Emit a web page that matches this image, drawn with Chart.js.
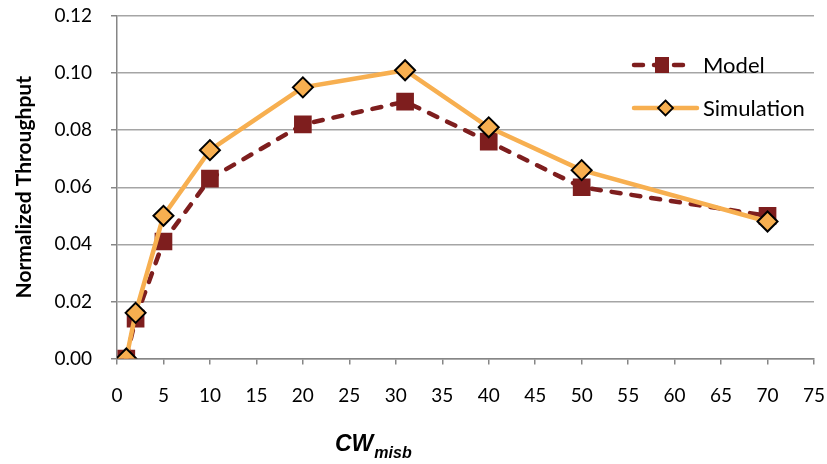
<!DOCTYPE html>
<html>
<head>
<meta charset="utf-8">
<script src="https://cdn.jsdelivr.net/npm/chart.js@4/dist/chart.umd.min.js"></script>
<style>
  html, body { margin: 0; padding: 0; background: #ffffff; }
  #wrap { width: 827px; height: 464px; }
</style>
</head>
<body>
<div id="wrap"><canvas id="c" width="827" height="464"></canvas></div>
<script>
// Contention window (x) and normalized throughput for both series
const cwValues = [1, 2, 5, 10, 20, 31, 40, 50, 70];
const modelThroughput = [0, 0.014, 0.041, 0.063, 0.082, 0.090, 0.076, 0.060, 0.050];
const simulationThroughput = [0, 0.016, 0.050, 0.073, 0.095, 0.101, 0.081, 0.066, 0.048];
const seriesNames = ['Model', 'Simulation'];
const yTitle = 'Normalized Throughput';

const MODEL_COLOR = '#7E1E1E';
const SIM_COLOR = '#F7AF50';
const AXIS_COLOR = '#868686';
const GRID_COLOR = '#A5A5A5';

const toPoints = (xs, ys) => xs.map((x, i) => ({ x: x, y: ys[i] }));

// Legend drawn inside the plot, to the upper right
const innerLegend = {
  id: 'innerLegend',
  afterDraw(chart) {
    const ctx = chart.ctx;
    const rows = [
      { ds: chart.data.datasets[0], y: 65 },
      { ds: chart.data.datasets[1], y: 108 }
    ];
    ctx.save();
    rows.forEach((r, i) => {
      const ds = r.ds;
      const x0 = 634, x1 = i === 0 ? 690 : 697, xm = (x0 + x1) / 2;
      ctx.beginPath();
      ctx.lineWidth = ds.borderWidth;
      ctx.strokeStyle = ds.borderColor;
      ctx.lineCap = 'round';
      ctx.setLineDash(ds.borderDash || []);
      ctx.moveTo(x0, r.y);
      ctx.lineTo(x1, r.y);
      ctx.stroke();
      ctx.setLineDash([]);
      if (i === 0) {
        ctx.fillStyle = ds.pointBackgroundColor;
        ctx.fillRect(xm - 7, r.y - 8, 14, 16);
      } else {
        ctx.beginPath();
        ctx.moveTo(xm, r.y - 7.5);
        ctx.lineTo(xm + 7.5, r.y);
        ctx.lineTo(xm, r.y + 7.5);
        ctx.lineTo(xm - 7.5, r.y);
        ctx.closePath();
        ctx.fillStyle = ds.pointBackgroundColor;
        ctx.fill();
        ctx.lineWidth = 1.8;
        ctx.strokeStyle = '#000';
        ctx.stroke();
      }
      ctx.fillStyle = '#000';
      ctx.font = '22px Lato';
      ctx.textAlign = 'left';
      ctx.textBaseline = 'middle';
      ctx.fillText(ds.label, 703, r.y + 1);
    });
    ctx.restore();
  }
};

// X axis title with subscript: CW_misb
const xTitle = {
  id: 'xTitle',
  afterDraw(chart) {
    const ctx = chart.ctx;
    ctx.save();
    ctx.fillStyle = '#000';
    ctx.textBaseline = 'alphabetic';
    ctx.textAlign = 'left';
    ctx.font = 'italic bold 23px "Liberation Sans"';
    ctx.fillText('CW', 335, 451);
    const w = ctx.measureText('CW').width;
    ctx.font = 'italic bold 16px "Liberation Sans"';
    ctx.fillText('misb', 335 + w + 1, 458);
    ctx.restore();
  }
};

new Chart(document.getElementById('c'), {
  type: 'line',
  data: {
    datasets: [
      {
        label: seriesNames[0],
        data: toPoints(cwValues, modelThroughput),
        borderColor: MODEL_COLOR,
        backgroundColor: MODEL_COLOR,
        borderWidth: 4.5,
        borderDash: [9, 11],
        borderCapStyle: 'round',
        pointStyle: 'rect',
        pointRadius: 12.5,
        pointBackgroundColor: MODEL_COLOR,
        pointBorderColor: MODEL_COLOR,
        pointBorderWidth: 0,
        tension: 0,
        order: 2
      },
      {
        label: seriesNames[1],
        data: toPoints(cwValues, simulationThroughput),
        borderColor: SIM_COLOR,
        backgroundColor: SIM_COLOR,
        borderWidth: 4.5,
        borderCapStyle: 'round',
        pointStyle: 'rectRot',
        pointRadius: 10,
        pointBackgroundColor: SIM_COLOR,
        pointBorderColor: '#000000',
        pointBorderWidth: 2,
        tension: 0,
        order: 1
      }
    ]
  },
  options: {
    responsive: false,
    animation: false,
    layout: { padding: { top: 16, right: 13, left: 0, bottom: 0 } },
    plugins: {
      legend: { display: false },
      tooltip: { enabled: false }
    },
    scales: {
      x: {
        type: 'linear',
        min: 0,
        max: 75,
        ticks: {
          stepSize: 5,
          color: '#000',
          font: { family: 'Lato', size: 19 },
          padding: 20,
          maxRotation: 0
        },
        grid: {
          drawOnChartArea: false,
          drawTicks: true,
          tickLength: 6,
          color: AXIS_COLOR,
          lineWidth: 1.5
        },
        border: { display: true, color: AXIS_COLOR, width: 1.5 },
        afterFit(scale) {
          scale.height = 105.5;
          scale.paddingLeft = 0;
          scale.paddingRight = 0;
        }
      },
      y: {
        min: 0,
        max: 0.12,
        ticks: {
          stepSize: 0.02,
          color: '#000',
          font: { family: 'Lato', size: 19 },
          padding: 19,
          callback: (v) => Number(v).toFixed(2)
        },
        grid: {
          color: GRID_COLOR,
          lineWidth: 1.5,
          tickLength: 6,
          tickColor: AXIS_COLOR
        },
        border: { display: true, color: AXIS_COLOR, width: 1.5 },
        title: {
          display: true,
          text: yTitle,
          color: '#000',
          font: { family: 'Lato', size: 21, weight: 'bold' },
          padding: { top: 12, bottom: 0 }
        },
        afterFit(scale) {
          scale.width = 117;
          scale.paddingTop = 0;
          scale.paddingBottom = 0;
        }
      }
    }
  },
  plugins: [innerLegend, xTitle]
});
</script>
</body>
</html>
